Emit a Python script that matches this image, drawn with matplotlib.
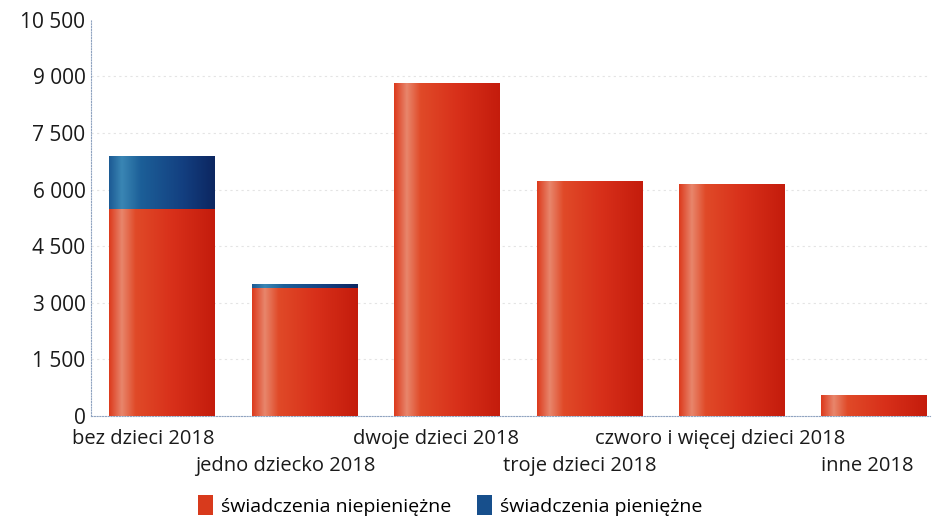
import matplotlib
matplotlib.use("Agg")
import matplotlib.pyplot as plt
import numpy as np
from matplotlib.colors import LinearSegmentedColormap
from matplotlib.patches import Patch

categories = ["bez dzieci 2018", "jedno dziecko 2018", "dwoje dzieci 2018",
              "troje dzieci 2018", "czworo i więcej dzieci 2018", "inne 2018"]
niepieniezne = [5500, 3400, 8830, 6230, 6150, 550]
pieniezne = [1400, 100, 0, 0, 0, 0]
yticks = [0, 1500, 3000, 4500, 6000, 7500, 9000, 10500]
series_names = ["świadczenia niepieniężne", "świadczenia pieniężne"]

plt.rcParams['font.family'] = ['Open Sans', 'DejaVu Sans']

red_cmap = LinearSegmentedColormap.from_list(
    "r", [(0, "#dc3a1c"), (0.12, "#e8866c"), (0.25, "#e04a28"), (0.6, "#d8301a"), (1, "#c41c0c")])
blue_cmap = LinearSegmentedColormap.from_list(
    "b", [(0, "#1c5a94"), (0.12, "#3a86b4"), (0.3, "#1c5f98"), (0.7, "#133f80"), (1, "#0c2660")])

fig = plt.figure(figsize=(9.32, 5.22), dpi=100)
ax = fig.add_axes([0.0976, 0.203, 0.9, 0.759])

x = np.arange(len(categories))
w = 0.74
b1 = ax.bar(x, niepieniezne, w, color="#d83a1c", zorder=2)
b2 = ax.bar(x, pieniezne, w, bottom=niepieniezne, color="#174f8c", zorder=2)

grad = np.linspace(0, 1, 256).reshape(1, -1)
for bars, cmap in ((b1, red_cmap), (b2, blue_cmap)):
    for p in bars:
        h = p.get_height()
        if h <= 0:
            continue
        x0, y0 = p.get_x(), p.get_y()
        im = ax.imshow(grad, cmap=cmap, aspect='auto', zorder=3,
                       extent=(x0, x0 + p.get_width(), y0, y0 + h), interpolation='bilinear')
        im.set_clip_path(p)

ax.set_xlim(-0.497, 5.39)
ax.set_ylim(0, 10500)
ax.set_yticks(yticks)
ax.set_yticklabels([f"{v:,}".replace(",", " ") for v in yticks], fontsize=15, color="#1a1a1a")
ax.tick_params(axis='y', length=0, pad=4)
ax.tick_params(axis='x', length=0)
ax.set_xticks([])

for sp in ("top", "right"):
    ax.spines[sp].set_visible(False)
for sp in ("left", "bottom"):
    ax.spines[sp].set_color("#8fa3c0")
    ax.spines[sp].set_linestyle((0, (1, 1.5)))
    ax.spines[sp].set_linewidth(0.8)

for v in yticks[1:-1]:
    ax.axhline(v, color="#e4e4e4", lw=0.8, ls=(0, (2, 3)), zorder=1)

label_dx = [-13, -14, -8, -6.5, -8, -5]
for i, c in enumerate(categories):
    yoff = -9 if i % 2 == 0 else -29
    ax.annotate(c, (x[i], 0), xytext=(label_dx[i], yoff), textcoords='offset points',
                ha='center', va='top', fontsize=14.5, color="#1a1a1a", annotation_clip=False)

handles = [Patch(facecolor="#d83a1c", label=series_names[0]),
           Patch(facecolor="#174f8c", label=series_names[1])]
fig.legend(handles=handles, loc='center', bbox_to_anchor=(0.483, 0.032), ncol=2, frameon=False,
           fontsize=14, handlelength=0.8, handleheight=1.2, handletextpad=0.4, columnspacing=1.3)

fig.savefig("out.png", dpi=100, facecolor="white")
